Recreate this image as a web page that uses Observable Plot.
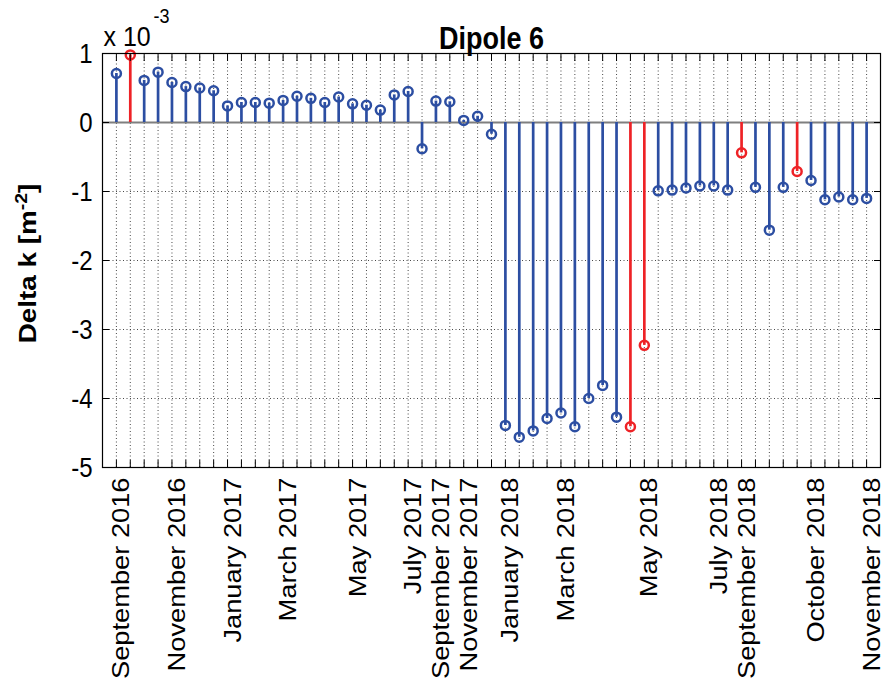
<!DOCTYPE html>
<html>
<head>
<meta charset="utf-8">
<script src="https://cdn.jsdelivr.net/npm/d3@7"></script>
<script src="https://cdn.jsdelivr.net/npm/@observablehq/plot@0.6"></script>
<style>
  body { margin: 0; background: #fff; }
  #chart svg { display: block; }
</style>
</head>
<body>
<div id="chart"></div>
<script>
// Dipole 6: change of integrated strength per measurement, in units of 1e-3 m^-2
const deltaK = [
  0.71, 0.98, 0.61, 0.73, 0.58, 0.52, 0.50, 0.46, 0.24, 0.29,
  0.29, 0.28, 0.32, 0.38, 0.35, 0.29, 0.37, 0.27, 0.25, 0.18,
  0.40, 0.45, -0.38, 0.31, 0.30, 0.03, 0.09, -0.17, -4.39, -4.56,
  -4.47, -4.29, -4.21, -4.41, -4.00, -3.81, -4.27, -4.41, -3.23, -0.99,
  -0.98, -0.95, -0.92, -0.92, -0.98, -0.44, -0.94, -1.56, -0.94, -0.71,
  -0.84, -1.12, -1.08, -1.12, -1.10
];
// measurements highlighted in red (1-based index)
const flagged = [2, 38, 39, 46, 50];

// month labels and the measurement index they sit on
const monthTicks = [1, 5, 9, 13, 18, 22, 24, 26, 29, 33, 39, 44, 46, 51, 55];
const monthLabels = [
  "September 2016", "November 2016", "January 2017", "March 2017", "May 2017",
  "July 2017", "September 2017", "November 2017", "January 2018", "March 2018",
  "May 2018", "July 2018", "September 2018", "October 2018", "November 2018"
];

const yTicks = [-5, -4, -3, -2, -1, 0, 1];
const yGrid = [-4, -3, -2, -1];

const titleText = "Dipole 6";
const yLabelText = "Delta k [m-2]";
const exponentBase = "x 10";
const exponentPower = "-3";

const BLUE = "#2c4ea2";
const RED = "#ee2226";

const points = deltaK.map((v, k) => ({i: k + 1, v, red: flagged.includes(k + 1)}));
const idx = points.map(d => d.i);
const colorOf = d => d.red ? RED : BLUE;

const chart = Plot.plot({
  width: 893,
  height: 690,
  marginLeft: 102,
  marginRight: 13,
  marginTop: 53,
  marginBottom: 223,
  style: {fontFamily: "'Liberation Sans', Arial, Helvetica, sans-serif", background: "white", color: "black"},
  x: {domain: [0, idx.length + 1]},
  y: {domain: [-5, 1]},
  marks: [
    // dotted grid
    Plot.ruleX(idx, {x: d => d, stroke: "#333", strokeWidth: 0.9, strokeDasharray: "1,2.5"}),
    Plot.ruleY(yGrid, {y: d => d, stroke: "#333", strokeWidth: 0.9, strokeDasharray: "1,2.5"}),
    // stem baseline
    Plot.ruleY([0], {stroke: "#7f7f7f", strokeWidth: 2}),
    // stems and markers
    Plot.ruleX(points, {x: "i", y1: 0, y2: "v", stroke: colorOf, strokeWidth: 2.7}),
    Plot.dot(points, {x: "i", y: "v", r: 4.5, stroke: colorOf, strokeWidth: 2.5, fill: "none"}),
    Plot.frame({stroke: "black", strokeWidth: 1.2}),
    // inward tick marks on all four sides
    Plot.axisX({anchor: "bottom", ticks: idx, tickSize: -7, fill: "none", stroke: "black"}),
    Plot.axisX({anchor: "top", ticks: idx, tickSize: -7, fill: "none", stroke: "black"}),
    Plot.axisY({anchor: "left", ticks: yTicks, tickSize: -7, fill: "none", stroke: "black"}),
    Plot.axisY({anchor: "right", ticks: yTicks, tickSize: -7, fill: "none", stroke: "black"}),
    // y tick labels
    Plot.axisY({anchor: "left", ticks: yTicks, tickSize: 0, tickPadding: 10, fontSize: 24,
                label: null, tickFormat: d => String(d)}),
    // month labels
    Plot.text(monthTicks, {x: d => d, text: (d, k) => monthLabels[k], frameAnchor: "bottom",
      rotate: -90, textAnchor: "end", dx: 13, dy: 10, fontSize: 23.5}),
    // title
    Plot.text([titleText], {frameAnchor: "top", lineAnchor: "bottom", dy: -5, fontSize: 27,
      fontWeight: "bold"}),
    // axis exponent
    Plot.text([exponentBase], {frameAnchor: "top-left", textAnchor: "start", lineAnchor: "bottom",
      dx: 1, dy: -8, fontSize: 25}),
    Plot.text([exponentPower], {frameAnchor: "top-left", textAnchor: "start", lineAnchor: "bottom",
      dx: 51, dy: -31, fontSize: 18}),
    // y axis label
    Plot.text([yLabelText], {frameAnchor: "left", rotate: -90, textAnchor: "middle",
      dx: -74, dy: 3, fontSize: 24, fontWeight: "bold"})
  ]
});

// text layers in mark order
const [monthG, titleG, expBaseG, expPowG, yLabelG] = chart.querySelectorAll('g[aria-label="text"]');
const yTickG = chart.querySelector('g[aria-label="y-axis tick label"]');

// stretch text slightly along its reading direction (taller glyphs)
function stretch(g, sx, sy) {
  if (!g) return;
  g.querySelectorAll("text").forEach(t => {
    t.setAttribute("transform", (t.getAttribute("transform") || "") + ` scale(${sx},${sy})`);
  });
}
stretch(monthG, 1.16, 1);
stretch(yTickG, 1, 1.18);
stretch(titleG, 1, 1.18);
stretch(expBaseG, 1, 1.12);
stretch(expPowG, 1, 1.12);
stretch(yLabelG, 1.16, 1);

// superscript the unit exponent of the y label
if (yLabelG) yLabelG.querySelectorAll("text").forEach(t => {
  const m = t.textContent.match(/^(.*\[m)(-2)(\])$/);
  if (!m) return;
  t.textContent = "";
  const ns = "http://www.w3.org/2000/svg";
  const parts = [[m[1], null, 0], [m[2], "0.7em", -9], [m[3], null, 9]];
  for (const [s, fs, dy] of parts) {
    const ts = document.createElementNS(ns, "tspan");
    ts.textContent = s;
    if (fs) ts.setAttribute("font-size", fs);
    if (dy) ts.setAttribute("dy", dy);
    t.appendChild(ts);
  }
});

document.getElementById("chart").appendChild(chart);
</script>
</body>
</html>
